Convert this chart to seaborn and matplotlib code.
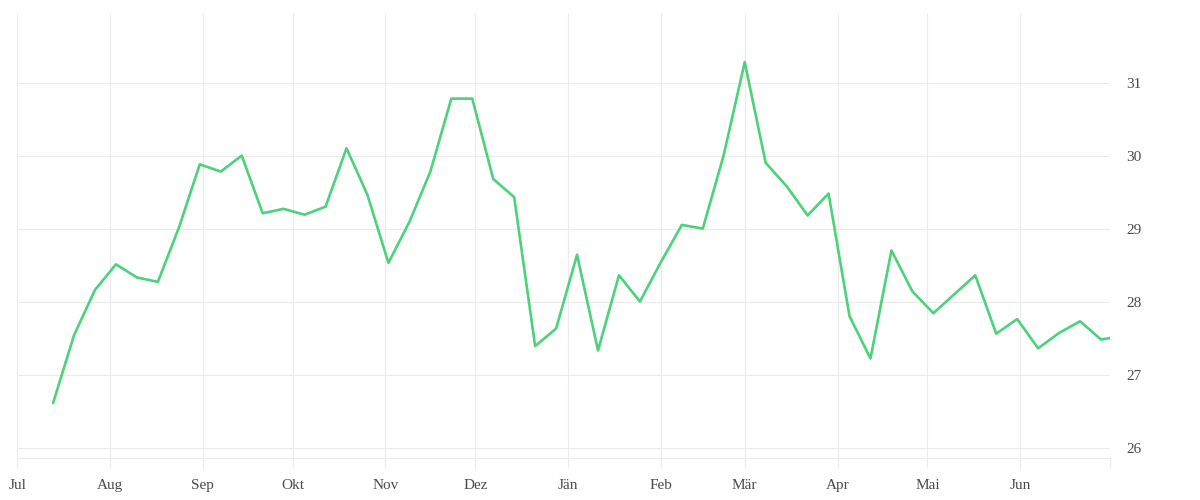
import pandas as pd
import seaborn as sns
import matplotlib
matplotlib.use("Agg")
from matplotlib import pyplot as plt

# Wochenwerte Jul 2018 - Jun 2019
datum = list(pd.date_range("2018-07-13", periods=51, freq="7D")) + [pd.Timestamp("2019-07-01")]
werte = [26.62, 27.55, 28.17, 28.52, 28.34, 28.28, 29.02, 29.89, 29.79, 30.01,
         29.22, 29.28, 29.20, 29.31, 30.11, 29.47, 28.54, 29.10, 29.79, 30.79,
         30.79, 29.69, 29.44, 27.40, 27.64, 28.65, 27.34, 28.37, 28.01, 28.55,
         29.06, 29.01, 30.02, 31.29, 29.91, 29.59, 29.19, 29.49, 27.81, 27.23,
         28.71, 28.15, 27.85, 28.11, 28.37, 27.57, 27.77, 27.37, 27.58, 27.74,
         27.49, 27.51]
monate = ["Jul", "Aug", "Sep", "Okt", "Nov", "Dez", "Jän", "Feb", "Mär", "Apr", "Mai", "Jun", ""]
yticks = [26, 27, 28, 29, 30, 31]

df = pd.DataFrame({"Datum": datum, "Wert": werte})

sns.set_style("white")
plt.rcParams["font.family"] = ["Liberation Serif", "DejaVu Serif"]

grau = "#ebebeb"
fig = plt.figure(figsize=(12, 5), dpi=100)
ax = fig.add_axes([0.0143, 0.0834, 0.9107, 0.8912])

sns.lineplot(data=df, x="Datum", y="Wert", ax=ax, color="#4cd27b", linewidth=1.9)

ticks = pd.date_range("2018-07-01", "2019-07-01", freq="MS")
ax.set_xticks(ticks)
ax.set_xticklabels(monate)
ax.set_xlim(ticks[0], ticks[-1])
ax.set_ylim(25.863, 31.967)
ax.set_yticks(yticks)
ax.yaxis.tick_right()

ax.grid(True, color=grau, linewidth=0.8)
for s in ["top", "left", "right"]:
    ax.spines[s].set_visible(False)
ax.spines["bottom"].set_color(grau)
ax.spines["bottom"].set_linewidth(0.8)

ax.tick_params(axis="x", bottom=True, length=7.2, width=0.8, color=grau, pad=7.5,
               labelsize=11, labelcolor="#4a4a4a")
ax.tick_params(axis="y", length=0, pad=12, labelsize=11, labelcolor="#4a4a4a")
for lab in ax.get_yticklabels():
    lab.set_horizontalalignment("left")

ax.set_xlabel("")
ax.set_ylabel("")

fig.savefig("out.png", dpi=100)
